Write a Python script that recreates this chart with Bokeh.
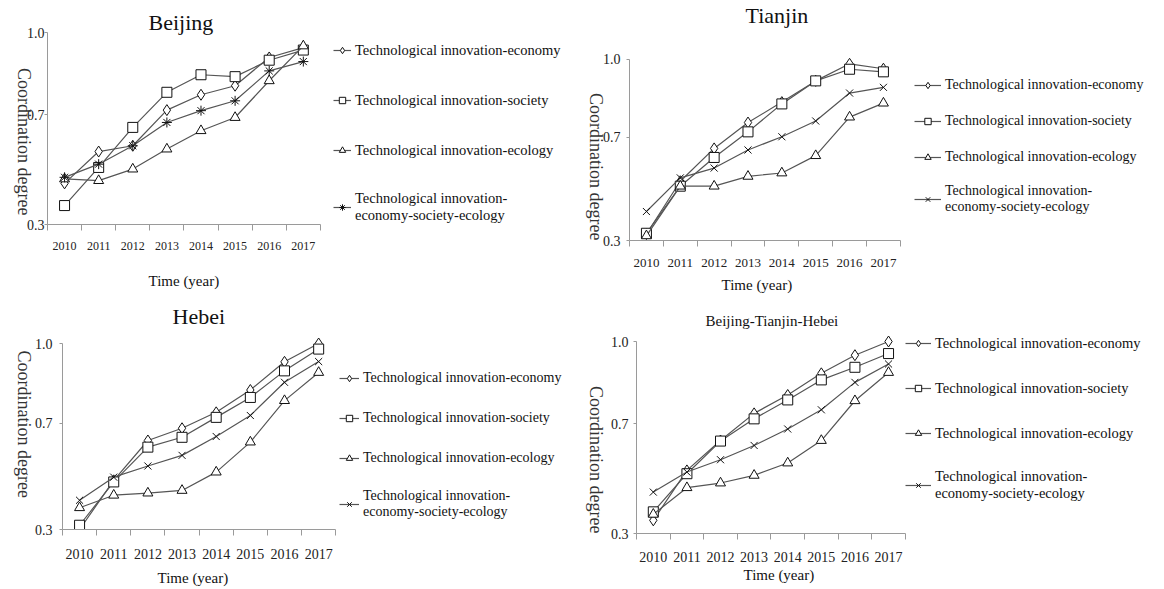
import math
from bokeh.plotting import figure
from bokeh.layouts import column, row
from bokeh.models import (Range1d, FixedTicker, PrintfTickFormatter, Legend, LegendItem, Title)
from bokeh.embed import file_html
from bokeh.resources import INLINE

years = ["2010", "2011", "2012", "2013", "2014", "2015", "2016", "2017"]
y_ticks = [0.3, 0.7, 1.0]

series_names = [
    "Technological innovation-economy",
    "Technological innovation-society",
    "Technological innovation-ecology",
    "Technological innovation-\neconomy-society-ecology",
]

bj_economy = [0.450, 0.566, 0.587, 0.717, 0.773, 0.806, 0.909, 0.945]
bj_society = [0.369, 0.508, 0.654, 0.782, 0.846, 0.839, 0.899, 0.936]
bj_ecology = [0.466, 0.460, 0.502, 0.575, 0.642, 0.690, 0.824, 0.951]
bj_overall = [0.472, 0.520, 0.587, 0.672, 0.715, 0.751, 0.860, 0.894]

tj_economy = [0.325, 0.529, 0.656, 0.756, 0.835, 0.917, 0.983, 0.964]
tj_society = [0.328, 0.510, 0.621, 0.720, 0.828, 0.917, 0.962, 0.952]
tj_ecology = [0.318, 0.510, 0.510, 0.548, 0.561, 0.628, 0.777, 0.831]
tj_overall = [0.412, 0.542, 0.580, 0.650, 0.701, 0.762, 0.870, 0.892]

hb_economy = [0.300, 0.485, 0.635, 0.681, 0.741, 0.825, 0.931, 1.000]
hb_society = [0.316, 0.479, 0.610, 0.647, 0.722, 0.797, 0.897, 0.979]
hb_ecology = [0.382, 0.429, 0.437, 0.447, 0.516, 0.629, 0.785, 0.891]
hb_overall = [0.410, 0.497, 0.539, 0.579, 0.650, 0.729, 0.854, 0.932]

bth_economy = [0.348, 0.530, 0.639, 0.738, 0.805, 0.884, 0.950, 1.000]
bth_society = [0.379, 0.518, 0.637, 0.718, 0.787, 0.860, 0.906, 0.956]
bth_ecology = [0.370, 0.467, 0.484, 0.512, 0.557, 0.639, 0.784, 0.887]
bth_overall = [0.451, 0.524, 0.569, 0.621, 0.681, 0.751, 0.851, 0.918]

FONT = "Liberation Serif"
LINE_COLOR = "#555555"
AXIS_COLOR = "#9a9a9a"
NBSP = "\u00a0"


def spacer(gap):
    return Title(text=" ", text_font_size="1px", standoff=gap)


def make_panel(title, data, overall_marker, w, h, row_top, left, data_w,
               data_top, data_bottom, ext_top,
               title_size, title_offset, title_standoff, title_gap,
               xtick_size, xtick_standoff, xlabel_offset, xlabel_gap,
               ytick_standoff, ylabel_standoff, ylabel_pad,
               leg_loc, leg_spacing, glyph_w, leg_font):
    n = len(years)
    xs = [i + 0.5 for i in range(n)]
    right = 2
    total_w = w - left - right
    x_end = n * total_w / data_w
    y0, y1 = y_ticks[0], y_ticks[-1]
    y_end = y1 + (y1 - y0) * ext_top / (data_bottom - data_top)
    top = data_top - ext_top - row_top
    bottom = row_top + h - data_bottom
    p = figure(width=w, height=h, output_backend="svg", toolbar_location=None,
               x_range=Range1d(0, x_end), y_range=Range1d(y0, y_end),
               min_border_left=left, min_border_right=right,
               min_border_top=top, min_border_bottom=bottom,
               outline_line_color=None, background_fill_color="white",
               border_fill_color="white")
    try:
        p.frame_align = False
    except Exception:
        pass
    p.title.text = title
    p.title.align = "left"
    p.title.offset = title_offset
    p.title.text_font = FONT
    p.title.text_font_size = f"{title_size}px"
    p.title.text_font_style = "normal"
    p.title.text_color = "#111111"
    p.title.standoff = title_standoff
    if title_gap > 0:
        p.add_layout(spacer(title_gap), "above")
    p.xgrid.visible = False
    p.ygrid.visible = False

    xa = p.xaxis[0]
    xa.bounds = (0, n)
    xa.ticker = FixedTicker(ticks=xs, minor_ticks=list(range(n + 1)))
    xa.major_label_overrides = {x: y for x, y in zip(xs, years)}
    xa.major_tick_out = 0
    xa.major_tick_in = 0
    xa.minor_tick_out = 6
    xa.minor_tick_in = 0
    xa.minor_tick_line_color = AXIS_COLOR
    xa.axis_line_color = AXIS_COLOR
    xa.major_label_text_font = FONT
    xa.major_label_text_font_size = f"{xtick_size}px"
    xa.major_label_text_color = "#222222"
    xa.major_label_standoff = xtick_standoff

    if xlabel_gap > 0:
        p.add_layout(spacer(xlabel_gap), "below")
    xt = Title(text="Time (year)", align="left", offset=xlabel_offset,
               standoff=0, text_font=FONT, text_font_size="15px",
               text_font_style="normal", text_color="#111111")
    p.add_layout(xt, "below")

    ya = p.yaxis[0]
    ya.bounds = (y0, y1)
    ya.ticker = FixedTicker(ticks=y_ticks, minor_ticks=[])
    ya.formatter = PrintfTickFormatter(format="%.1f")
    ya.major_tick_out = 3
    ya.major_tick_in = 0
    ya.major_tick_line_color = AXIS_COLOR
    ya.axis_line_color = AXIS_COLOR
    ya.major_label_text_font = FONT
    ya.major_label_text_font_size = "14px"
    ya.major_label_text_color = "#222222"
    ya.major_label_standoff = ytick_standoff
    ya.axis_label = "Coordination degree" + NBSP * ylabel_pad
    ya.axis_label_text_font = FONT
    ya.axis_label_text_font_size = "18px"
    ya.axis_label_text_font_style = "normal"
    ya.axis_label_text_color = "#333333"
    ya.axis_label_standoff = ylabel_standoff
    try:
        ya.axis_label_orientation = -math.pi / 2
    except Exception:
        pass
    try:
        ya.axis_label_align = "start"
    except Exception:
        pass

    markers = ["diamond", "square", "triangle", overall_marker]
    sizes = [11, 10, 10, 10]
    items = []
    for name, vals, mk, sz in zip(series_names, data, markers, sizes):
        lr = p.line(xs, vals, line_color=LINE_COLOR, line_width=1.2)
        sr = p.scatter(xs, vals, marker=mk, size=sz, fill_color="white",
                       line_color="#111111", line_width=1)
        items.append(LegendItem(label=name, renderers=[lr, sr]))
    leg = Legend(items=items, location=leg_loc, spacing=leg_spacing,
                 glyph_width=glyph_w, glyph_height=16, label_standoff=4,
                 padding=0, margin=0, border_line_color=None,
                 background_fill_alpha=0, label_text_font=FONT,
                 label_text_font_size=f"{leg_font}px", label_text_color="#111111",
                 label_height=20)
    p.add_layout(leg, "center")
    return p


H1, H2 = 298, 289

p1 = make_panel("Beijing", [bj_economy, bj_society, bj_ecology, bj_overall], "asterisk",
                572, H1, 0, 41, 276, 32, 224, 0,
                22, 101, -4, 0,
                12, 11, 101, 15,
                0, 0, 2,
                (286, 0), 30, 18, 14.5)
p2 = make_panel("Tianjin", [tj_economy, tj_society, tj_ecology, tj_overall], "x",
                576, H1, 0, 51, 274, 57, 240, 8,
                22, 116, 0, 21,
                13, 12, 92, 2,
                6, 4, 0,
                (285, 25), 16, 27, 14)
p3 = make_panel("Hebei", [hb_economy, hb_society, hb_ecology, hb_overall], "x",
                572, H2, H1, 55, 277, 343, 529, 8,
                22, 110, 0, 4,
                14, 13, 95, 3,
                7, 8, 7,
                (277, 9), 20, 20, 14)
p4 = make_panel("Beijing-Tianjin-Hebei", [bth_economy, bth_society, bth_ecology, bth_overall], "x",
                576, H2, H1, 58, 272, 341, 533, 12,
                15, 69, 2, 0,
                14, 12, 107, 0,
                5, 12, 0,
                (269, 31), 25, 26, 14.5)

layout = column(row(p1, p2), row(p3, p4))
open("out.html", "w").write(file_html(layout, INLINE))
